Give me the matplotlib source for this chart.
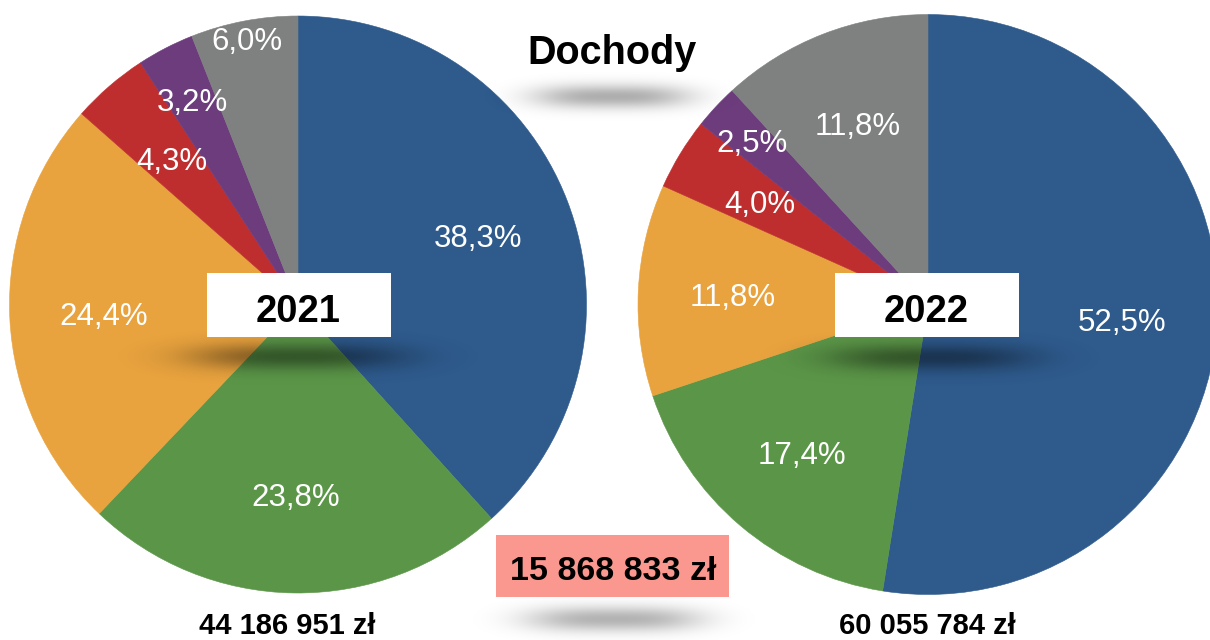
import numpy as np
import matplotlib
matplotlib.use("Agg")
import matplotlib.pyplot as plt
from matplotlib.patches import Rectangle

plt.rcParams['font.family'] = ['Liberation Sans', 'DejaVu Sans']

# ---- data ----
title = "Dochody"
categories = ["A", "B", "C", "D", "E", "F"]
years = ["2021", "2022"]
shares_2021 = [38.3, 23.8, 24.4, 4.3, 3.2, 6.0]
shares_2022 = [52.5, 17.4, 11.8, 4.0, 2.5, 11.8]
totals = ["44 186 951 zł", "60 055 784 zł"]
difference = "15 868 833 zł"

colors = ["#2E5A8C", "#5B9648", "#E8A23E", "#BF2E2F", "#6C3C7D", "#7F8080"]
label_dist_2021 = [0.67, 0.66, 0.675, 0.67, 0.80, 0.94]
label_dist_2022 = [0.67, 0.67, 0.675, 0.68, 0.83, 0.67]

W, H = 1210, 640
fig = plt.figure(figsize=(W / 100, H / 100), dpi=100)
fig.patch.set_facecolor("white")


def pie_axes(cx, cy, r):
    return fig.add_axes([(cx - r) / W, (H - (cy + r)) / H, 2 * r / W, 2 * r / H], zorder=1)


def draw_pie(ax, vals, dists):
    wedges, _ = ax.pie(vals, colors=colors, startangle=90, counterclock=False,
                       radius=1, wedgeprops=dict(linewidth=0.4))
    for w, c in zip(wedges, colors):
        w.set_edgecolor(c)
        w.set_clip_on(False)
    ax.set_xlim(-1, 1)
    ax.set_ylim(-1, 1)
    ax.set_axis_off()
    total = sum(vals)
    cum = 0.0
    for v, d in zip(vals, dists):
        mid = 90 - (cum + v / 2) / total * 360
        cum += v
        a = np.deg2rad(mid)
        ax.text(d * np.cos(a), d * np.sin(a), f"{v:.1f}".replace(".", ",") + "%",
                ha="center", va="center_baseline", color="white", fontsize=22.5)


ax1 = pie_axes(298, 304.5, 288.5)
draw_pie(ax1, shares_2021, label_dist_2021)
ax2 = pie_axes(928, 304.5, 290)
draw_pie(ax2, shares_2022, label_dist_2022)

# overlay in pixel coordinates
ov = fig.add_axes([0, 0, 1, 1], zorder=5)
ov.patch.set_alpha(0)
ov.set_axis_off()


def shadow(cx, cy, w, h, amax):
    x0, x1 = cx - w, cx + w
    y0, y1 = cy - 3 * h, cy + 3 * h
    xs = np.linspace(x0, x1, 300)
    ys = np.linspace(y0, y1, 80)
    X, Y = np.meshgrid(xs, ys)
    ax_ = np.exp(-np.abs((X - cx) / (w * 0.6)) ** 3)
    ay_ = np.exp(-0.5 * ((Y - cy) / h) ** 2)
    img = np.zeros((len(ys), len(xs), 4))
    img[..., 3] = amax * ax_ * ay_
    ov.imshow(img, extent=(x0, x1, y1, y0), origin="upper", interpolation="bilinear",
              aspect="auto", zorder=1)


shadow(298, 357, 180, 9.5, 0.42)
shadow(930, 358, 170, 9.5, 0.42)
shadow(612, 97, 130, 8.5, 0.32)
shadow(614, 619, 145, 9, 0.30)

ov.set_xlim(0, W)
ov.set_ylim(H, 0)

# year boxes
for bx, yr in zip([207, 835], years):
    ov.add_patch(Rectangle((bx, 273), 184, 64, facecolor="white", edgecolor="none", zorder=3))
    ov.text(bx + 91, 308, yr, ha="center", va="center_baseline", fontsize=27.5,
            fontweight="bold", color="black", zorder=4)

# title
ov.text(612, 49, title, ha="center", va="center_baseline", fontsize=28.5,
        fontweight="bold", color="black", zorder=4)

# difference box
ov.add_patch(Rectangle((496, 535), 233, 62, facecolor="#FA978E", edgecolor="none", zorder=3))
ov.text(613, 568, difference, ha="center", va="center_baseline", fontsize=24.5,
        fontweight="bold", color="black", zorder=4)

# totals
ov.text(287, 634, totals[0], ha="center", va="baseline", fontsize=21,
        fontweight="bold", color="black", zorder=4)
ov.text(927, 634, totals[1], ha="center", va="baseline", fontsize=21,
        fontweight="bold", color="black", zorder=4)

fig.savefig("out.png", dpi=100, facecolor="white")
